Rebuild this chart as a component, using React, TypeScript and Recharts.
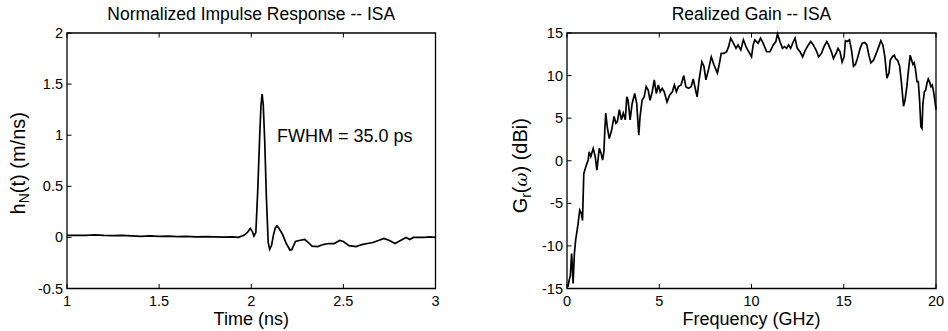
import React from 'react';
import { LineChart, Line, XAxis, YAxis, ReferenceDot, ReferenceArea } from 'recharts';

// ---------- Data: Normalized impulse response ----------
const impulseTime = [
  1.00, 1.05, 1.10, 1.15, 1.20, 1.25, 1.30, 1.35, 1.40, 1.45,
  1.50, 1.55, 1.60, 1.65, 1.70, 1.75, 1.80, 1.85, 1.90, 1.93,
  1.96, 1.98, 1.995, 2.005, 2.015, 2.025, 2.035, 2.045, 2.053, 2.059,
  2.065, 2.073, 2.082, 2.092, 2.100, 2.110, 2.120, 2.130, 2.140, 2.150,
  2.170, 2.190, 2.210, 2.220, 2.240, 2.260, 2.290, 2.310, 2.330, 2.360,
  2.390, 2.420, 2.450, 2.480, 2.500, 2.530, 2.570, 2.600, 2.630, 2.660,
  2.690, 2.720, 2.750, 2.780, 2.810, 2.840, 2.860, 2.880, 2.910, 2.940,
  2.970, 3.000,
];
const impulseValue = [
  0.02, 0.02, 0.02, 0.025, 0.02, 0.018, 0.02, 0.015, 0.01, 0.015,
  0.01, 0.012, 0.008, 0.01, 0.005, 0.008, 0.005, 0.003, 0.005, 0.0,
  0.02, 0.05, 0.088, 0.06, 0.013, 0.05, 0.45, 0.95, 1.3, 1.403,
  1.3, 0.95, 0.4, -0.05, -0.116, -0.08, 0.02, 0.09, 0.113, 0.09,
  0.03, -0.06, -0.123, -0.12, -0.04, -0.03, -0.02, -0.05, -0.085, -0.09,
  -0.07, -0.06, -0.06, -0.03, -0.04, -0.08, -0.09, -0.07, -0.06, -0.05,
  -0.03, -0.01, -0.03, -0.06, -0.03, 0.0, -0.02, 0.0, 0.0, 0.0,
  0.005, 0.0,
];
const timeTicks = [1, 1.5, 2, 2.5, 3];
const impulseTicks = [-0.5, 0, 0.5, 1, 1.5, 2];

// ---------- Data: Realized gain ----------
const gainFreq = [
  0.05, 0.12, 0.18, 0.25, 0.29, 0.33, 0.40, 0.47, 0.60, 0.69,
  0.78, 0.84, 0.91, 1.02, 1.15, 1.20, 1.29, 1.42, 1.53, 1.62,
  1.75, 1.85, 1.93, 2.00, 2.05, 2.10, 2.18, 2.29, 2.42, 2.55,
  2.65, 2.73, 2.84, 2.95, 3.05, 3.16, 3.24, 3.31, 3.42, 3.53,
  3.67, 3.78, 3.89, 3.96, 4.07, 4.18, 4.29, 4.40, 4.50, 4.62,
  4.73, 4.84, 4.95, 5.05, 5.16, 5.27, 5.42, 5.56, 5.71, 5.82,
  5.93, 6.04, 6.18, 6.33, 6.44, 6.58, 6.73, 6.84, 6.95, 7.05,
  7.16, 7.31, 7.42, 7.53, 7.67, 7.82, 7.96, 8.15, 8.25, 8.36,
  8.51, 8.65, 8.76, 8.87, 9.02, 9.16, 9.27, 9.42, 9.56, 9.72,
  9.90, 10.00, 10.09, 10.18, 10.36, 10.49, 10.63, 10.82, 11.00, 11.18,
  11.32, 11.41, 11.54, 11.68, 11.79, 11.90, 12.01, 12.12, 12.23, 12.36,
  12.48, 12.63, 12.77, 12.92, 13.08, 13.21, 13.35, 13.50, 13.64, 13.79,
  13.93, 14.08, 14.18, 14.33, 14.44, 14.58, 14.69, 14.80, 14.91, 15.02,
  15.09, 15.20, 15.31, 15.42, 15.53, 15.63, 15.74, 15.89, 16.00, 16.14,
  16.25, 16.36, 16.47, 16.61, 16.76, 16.90, 17.01, 17.12, 17.23, 17.34,
  17.45, 17.52, 17.63, 17.74, 17.81, 17.92, 18.03, 18.13, 18.24, 18.32,
  18.42, 18.51, 18.60, 18.68, 18.75, 18.82, 18.89, 18.97, 19.04, 19.11,
  19.18, 19.24, 19.29, 19.37, 19.44, 19.51, 19.58, 19.66, 19.73, 19.80,
  19.87, 19.95, 20.00,
];
const gainDbi = [
  -14.8, -14.0, -13.5, -10.9, -12.5, -14.4, -10.9, -9.3, -7.4, -5.8,
  -6.2, -7.0, -1.5, -0.7, 0.1, 1.06, 0.5, 1.45, 0.47, -1.1,
  1.45, 0.86, 0.08, 1.06, 3.6, 5.6, 4.0, 2.6, 3.6, 5.2,
  4.4, 4.6, 6.0, 4.8, 5.6, 4.8, 7.5, 7.1, 4.8, 6.7,
  7.9, 6.7, 3.0, 5.2, 7.1, 7.5, 8.7, 8.3, 7.1, 8.1,
  9.5, 7.9, 8.9, 8.1, 8.5, 8.1, 6.9, 7.7, 8.1, 8.9,
  8.1, 8.7, 8.9, 10.0, 8.7, 8.5, 8.7, 9.6, 8.5, 7.5,
  9.5, 11.6, 11.1, 9.5, 10.7, 12.2, 11.3, 10.3, 11.3, 12.6,
  12.6, 12.8, 13.4, 14.4, 13.8, 13.2, 13.6, 13.0, 14.2, 13.3,
  12.6, 12.2, 13.6, 14.2, 13.8, 14.4, 13.8, 12.8, 12.8, 13.6,
  14.0, 14.9, 14.0, 13.2, 13.4, 13.2, 13.6, 13.2, 13.8, 14.4,
  13.2, 12.8, 12.2, 13.0, 13.6, 14.0, 13.6, 13.0, 12.2, 12.6,
  13.4, 14.0, 13.6, 12.8, 12.0, 12.6, 13.2, 12.8, 11.6, 12.2,
  14.1, 14.0, 14.2, 13.0, 11.1, 11.3, 12.0, 13.2, 13.8, 13.9,
  13.6, 12.4, 11.5, 11.8, 12.6, 13.4, 14.1, 13.6, 12.2, 9.7,
  10.3, 11.8, 12.2, 12.4, 12.0, 11.8, 11.1, 9.1, 6.4, 7.1,
  8.7, 10.7, 12.4, 11.8, 11.3, 11.5, 10.7, 9.3, 9.3, 7.1,
  4.0, 3.8, 6.7, 8.1, 8.3, 9.1, 9.6, 9.2, 8.7, 8.9,
  8.1, 6.9, 6.0,
];
const freqTicks = [0, 5, 10, 15, 20];
const gainTicks = [-15, -10, -5, 0, 5, 10, 15];

const impulseRows = impulseTime.map((t, i) => ({ t, h: impulseValue[i] }));
const gainRows = gainFreq.map((f, i) => ({ f, g: gainDbi[i] }));

// ---------- Styling helpers ----------
const FONT = '"Liberation Sans", Arial, Helvetica, sans-serif';
const TICK_FS = 14.5;
const TL = 4.5;

const BottomTick = (props: any) => {
  const { x, y, payload } = props;
  return (
    <g>
      <line x1={x} x2={x} y1={y} y2={y - TL} stroke="#000" strokeWidth={1} />
      <text x={x} y={y + 17} textAnchor="middle" fontFamily={FONT} fontSize={TICK_FS} fill="#000">
        {String(payload.value)}
      </text>
    </g>
  );
};
const TopTick = (props: any) => {
  const { x, y } = props;
  return <line x1={x} x2={x} y1={y} y2={y + TL} stroke="#000" strokeWidth={1} />;
};
const LeftTick = (props: any) => {
  const { x, y, payload } = props;
  return (
    <g>
      <line x1={x} x2={x + TL} y1={y} y2={y} stroke="#000" strokeWidth={1} />
      <text x={x - 4} y={y + 5} textAnchor="end" fontFamily={FONT} fontSize={TICK_FS} fill="#000">
        {String(payload.value)}
      </text>
    </g>
  );
};
const RightTick = (props: any) => {
  const { x, y } = props;
  return <line x1={x} x2={x - TL} y1={y} y2={y} stroke="#000" strokeWidth={1} />;
};

const makeTitle = (text: string) => (p: any) => {
  const vb = p.viewBox || {};
  return (
    <text x={vb.x + vb.width / 2} y={vb.y - 13.5} textAnchor="middle" fontFamily={FONT} fontSize={17.5} fill="#000">
      {text}
    </text>
  );
};
const makeXLabel = (text: string) => (p: any) => {
  const vb = p.viewBox || {};
  return (
    <text x={vb.x + vb.width / 2} y={vb.y + 36.5} textAnchor="middle" fontFamily={FONT} fontSize={18} fill="#000">
      {text}
    </text>
  );
};

const ImpulseYLabel = (p: any) => {
  const vb = p.viewBox || {};
  const cx = vb.x + 25;
  const cy = vb.y + vb.height / 2 + 2.5;
  return (
    <text transform={`translate(${cx},${cy}) rotate(-90)`} x={0} y={0} textAnchor="middle" fontFamily={FONT} fontSize={20} fill="#000">
      h<tspan dy={4} fontSize={14}>N</tspan>
      <tspan dy={-4}>(t) (m/ns)</tspan>
    </text>
  );
};
const GainYLabel = (p: any) => {
  const vb = p.viewBox || {};
  const cx = vb.x + 52.5;
  const cy = vb.y + vb.height / 2 + 5;
  return (
    <text transform={`translate(${cx},${cy}) rotate(-90)`} x={0} y={0} textAnchor="middle" fontFamily={FONT} fontSize={20} fill="#000">
      G<tspan dy={4} fontSize={14}>r</tspan>
      <tspan dy={-4}>(</tspan>
      <tspan fontStyle="italic" fontFamily='"DejaVu Serif", serif' fontSize={17}>ω</tspan>
      <tspan>) (dBi)</tspan>
    </text>
  );
};
const FwhmLabel = (p: any) => {
  const vb = p.viewBox || {};
  return (
    <text x={vb.x} y={vb.y + 6.5} textAnchor="start" fontFamily={FONT} fontSize={18} fill="#000">
      FWHM = 35.0 ps
    </text>
  );
};

export default function App() {
  return (
    <div style={{ position: 'absolute', left: 0, top: 0, width: 948, height: 331, background: '#fff' }}>
      <div style={{ position: 'absolute', left: 0, top: 0 }}>
        <LineChart width={474} height={331} data={impulseRows} margin={{ top: 32, right: 37.5, bottom: 0, left: 0 }}>
          <XAxis
            xAxisId="b" dataKey="t" type="number" domain={[1, 3]} ticks={timeTicks} interval={0}
            height={42.5} tickSize={0} tickMargin={0} tickLine={false} axisLine={false} tick={BottomTick}
            label={{ content: makeXLabel('Time (ns)') }}
          />
          <XAxis
            xAxisId="t" orientation="top" dataKey="t" type="number" domain={[1, 3]} ticks={timeTicks} interval={0}
            height={1} tickSize={0} tickMargin={0} tickLine={false} axisLine={false} tick={TopTick}
          />
          <YAxis
            yAxisId="l" type="number" domain={[-0.5, 2]} ticks={impulseTicks} interval={0}
            width={67} tickSize={0} tickMargin={0} tickLine={false} axisLine={false} tick={LeftTick}
            label={{ content: ImpulseYLabel }}
          />
          <YAxis
            yAxisId="r" orientation="right" type="number" domain={[-0.5, 2]} ticks={impulseTicks} interval={0}
            width={1} tickSize={0} tickMargin={0} tickLine={false} axisLine={false} tick={RightTick}
          />
          <ReferenceArea
            xAxisId="b" yAxisId="l" x1={1} x2={3} y1={-0.5} y2={2}
            fill="none" fillOpacity={0} stroke="#000" strokeWidth={1.3} strokeOpacity={1}
            label={{ content: makeTitle('Normalized Impulse Response -- ISA') }}
          />
          <Line
            xAxisId="b" yAxisId="l" type="linear" dataKey="h" stroke="#000" strokeWidth={1.7}
            dot={false} activeDot={false} isAnimationActive={false}
          />
          <ReferenceDot
            xAxisId="b" yAxisId="l" x={2.14} y={1} r={0} fill="none" stroke="none"
            label={{ content: FwhmLabel }}
          />
        </LineChart>
      </div>
      <div style={{ position: 'absolute', left: 474, top: 0 }}>
        <LineChart width={474} height={331} data={gainRows} margin={{ top: 32, right: 11, bottom: 0, left: 0 }}>
          <XAxis
            xAxisId="b" dataKey="f" type="number" domain={[0, 20]} ticks={freqTicks} interval={0}
            height={42.5} tickSize={0} tickMargin={0} tickLine={false} axisLine={false} tick={BottomTick}
            label={{ content: makeXLabel('Frequency (GHz)') }}
          />
          <XAxis
            xAxisId="t" orientation="top" dataKey="f" type="number" domain={[0, 20]} ticks={freqTicks} interval={0}
            height={1} tickSize={0} tickMargin={0} tickLine={false} axisLine={false} tick={TopTick}
          />
          <YAxis
            yAxisId="l" type="number" domain={[-15, 15]} ticks={gainTicks} interval={0}
            width={93} tickSize={0} tickMargin={0} tickLine={false} axisLine={false} tick={LeftTick}
            label={{ content: GainYLabel }}
          />
          <YAxis
            yAxisId="r" orientation="right" type="number" domain={[-15, 15]} ticks={gainTicks} interval={0}
            width={1} tickSize={0} tickMargin={0} tickLine={false} axisLine={false} tick={RightTick}
          />
          <ReferenceArea
            xAxisId="b" yAxisId="l" x1={0} x2={20} y1={-15} y2={15}
            fill="none" fillOpacity={0} stroke="#000" strokeWidth={1.3} strokeOpacity={1}
            label={{ content: makeTitle('Realized Gain -- ISA') }}
          />
          <Line
            xAxisId="b" yAxisId="l" type="linear" dataKey="g" stroke="#000" strokeWidth={1.7}
            dot={false} activeDot={false} isAnimationActive={false}
          />
        </LineChart>
      </div>
    </div>
  );
}
